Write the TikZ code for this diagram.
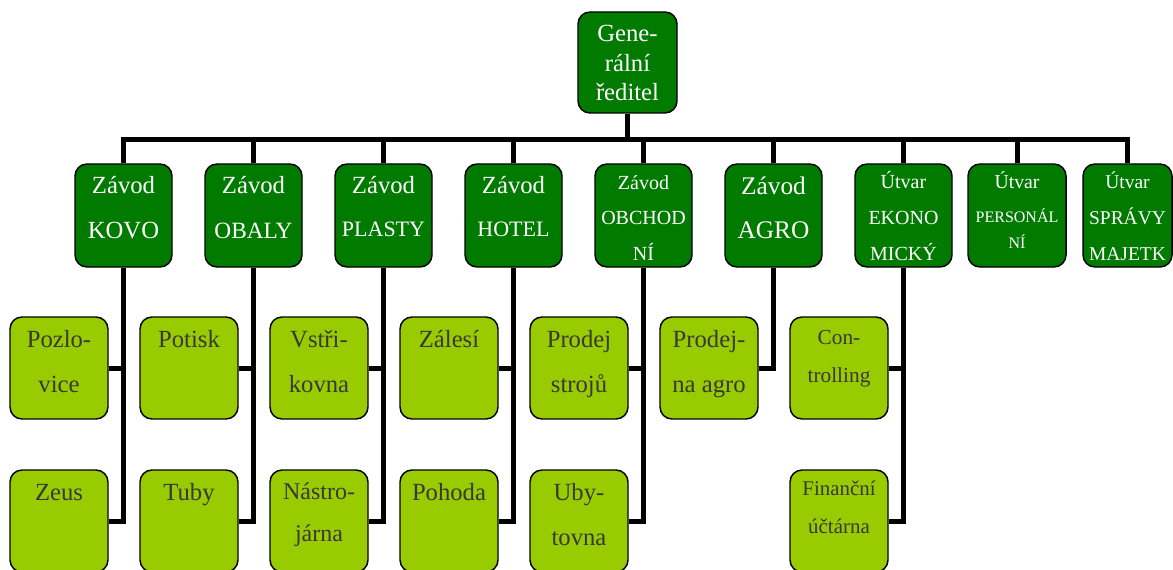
\documentclass[tikz,border=0pt]{standalone}
\usepackage{fontspec}
\setmainfont{Liberation Serif}
\definecolor{dkgreen}{RGB}{0,123,0}
\definecolor{ltgreen}{RGB}{153,204,0}
\definecolor{txtgray}{RGB}{56,56,56}
\newcommand\setfs[2]{\fontsize{#1}{#2}\selectfont}
\newcommand\firstln{\rule{0pt}{18pt}}
\tikzset{
  boxbase/.style={draw=black, line width=1.1pt, rounded corners=9pt, inner sep=0pt},
  chief/.style={boxbase, fill=dkgreen, minimum width=74.25pt, minimum height=75.75pt},
  unit/.style={boxbase, fill=dkgreen, minimum width=72.75pt, minimum height=77.25pt},
  sub/.style={boxbase, fill=ltgreen, minimum width=73.5pt, minimum height=76.5pt},
  wtxt/.style={text=white, inner sep=0pt, anchor=north, align=center},
  gtxt/.style={text=txtgray, inner sep=0pt, anchor=north, align=center},
  conn/.style={draw=black, line width=3.75pt}
}
\begin{document}
\begin{tikzpicture}[x=0.75pt, y=-0.75pt]
\useasboundingbox (0,0) rectangle (1173,570);
\clip (0,0) rectangle (1173,570);

% top
\node[chief] (gen) at (627.5,62.5) {};

% second level
\node[unit] (kovo)   at (123.5,215.5) {};
\node[unit] (obaly)  at (253.5,215.5) {};
\node[unit] (plasty) at (383.5,215.5) {};
\node[unit] (hotel)  at (513.5,215.5) {};
\node[unit] (obchod) at (643.5,215.5) {};
\node[unit] (agro)   at (773.5,215.5) {};
\node[unit] (ekon)   at (903.5,215.5) {};
\node[unit, minimum width=73.5pt] (pers) at (1017,215.5) {};
\node[unit, minimum width=66.75pt] (sprava) at (1127.5,215.5) {};

% third level
\node[sub] (pozlo)     at (59,368) {};
\node[sub] (zeus)      at (59,521) {};
\node[sub] (potisk)    at (189,368) {};
\node[sub] (tuby)      at (189,521) {};
\node[sub] (vstrik)    at (319,368) {};
\node[sub] (nastroj)   at (319,521) {};
\node[sub] (zalesi)    at (449,368) {};
\node[sub] (pohoda)    at (449,521) {};
\node[sub] (prodstroj) at (579,368) {};
\node[sub] (ubyt)      at (579,521) {};
\node[sub] (prodagro)  at (709,368) {};
\node[sub] (contr)     at (839,368) {};
\node[sub] (finan)     at (839,521) {};

% labels
\node[wtxt, font=\setfs{18.5}{22}] (gen-t) at (gen |- 0,17.5) {\firstln Gene-\\rální\\ředitel};

\node[wtxt, font=\setfs{18.5}{33.75}] (kovo-t) at (kovo |- 0,169) {\firstln Závod\\KOVO};
\node[wtxt, font=\setfs{17.5}{33.75}] (obaly-t) at (obaly |- 0,169) {{\setfs{18.5}{22}\firstln Závod}\\OBALY};
\node[wtxt, font=\setfs{16.5}{32.25}] (plasty-t) at (plasty |- 0,169) {{\setfs{18.5}{22}\firstln Závod}\\PLASTY};
\node[wtxt, font=\setfs{16.5}{32.25}] (hotel-t) at (hotel |- 0,169) {{\setfs{18.5}{22}\firstln Závod}\\HOTEL};
\node[wtxt, font=\setfs{15}{26.6}] (obchod-t) at (obchod |- 0,165) {\firstln Závod\\OBCHOD\\NÍ};
\node[wtxt, font=\setfs{19}{33}] (agro-t) at (agro |- 0,170) {\firstln Závod\\AGRO};
\node[wtxt, font=\setfs{15}{27}] (ekon-t) at (ekon |- 0,164) {\firstln Útvar\\EKONO\\MICKÝ};
\node[wtxt, font=\setfs{12}{19.5}] (pers-t) at (pers |- 0,164) {{\setfs{14.8}{20}\firstln Útvar}\\[6pt]PERSONÁL\\NÍ};
\node[wtxt, font=\setfs{14.6}{27}] (sprava-t) at (sprava |- 0,164) {\firstln Útvar\\SPRÁVY\\MAJETK};

\node[gtxt, font=\setfs{18.5}{33.75}] (pozlo-t) at (pozlo |- 0,323) {\firstln Pozlo-\\vice};
\node[gtxt, font=\setfs{18.5}{33.75}] (zeus-t) at (zeus |- 0,476) {\firstln Zeus};
\node[gtxt, font=\setfs{18.5}{33.75}] (potisk-t) at (potisk |- 0,323) {\firstln Potisk};
\node[gtxt, font=\setfs{18.5}{33.75}] (tuby-t) at (tuby |- 0,476) {\firstln Tuby};
\node[gtxt, font=\setfs{18.5}{33.75}] (vstrik-t) at (vstrik |- 0,323) {\firstln Vstři-\\kovna};
\node[gtxt, font=\setfs{18}{31.5}] (nastroj-t) at (nastroj |- 0,475) {\firstln Nástro-\\járna};
\node[gtxt, font=\setfs{18.5}{33.75}] (zalesi-t) at (zalesi |- 0,323) {\firstln Zálesí};
\node[gtxt, font=\setfs{18.5}{33.75}] (pohoda-t) at (pohoda |- 0,476) {\firstln Pohoda};
\node[gtxt, font=\setfs{18.5}{33.75}] (prodstroj-t) at (prodstroj |- 0,323) {\firstln Prodej\\strojů};
\node[gtxt, font=\setfs{18.5}{33.75}] (ubyt-t) at (ubyt |- 0,476) {\firstln Uby-\\tovna};
\node[gtxt, font=\setfs{18.5}{33.75}] (prodagro-t) at (prodagro |- 0,323) {\firstln Prodej-\\na agro};
\node[gtxt, font=\setfs{16}{28.5}] (contr-t) at (contr |- 0,320) {\firstln Con-\\trolling};
\node[gtxt, font=\setfs{15.7}{28.5}] (finan-t) at (finan |- 0,471) {\firstln Finanční\\účtárna};

% top bar
\coordinate (bar) at (627.5,140);
\draw[conn] (gen.south) -- (bar);
\draw[conn] (kovo.north) |- (bar) -| (sprava.north);
\foreach \u in {obaly,plasty,hotel,obchod,agro,ekon,pers}
  \draw[conn] (\u.north) -- (\u.north |- bar);

% columns
\draw[conn] (kovo.south) |- (zeus.east);
\draw[conn] (pozlo.east) -- (pozlo.east -| kovo.south);
\draw[conn] (obaly.south) |- (tuby.east);
\draw[conn] (potisk.east) -- (potisk.east -| obaly.south);
\draw[conn] (plasty.south) |- (nastroj.east);
\draw[conn] (vstrik.east) -- (vstrik.east -| plasty.south);
\draw[conn] (hotel.south) |- (pohoda.east);
\draw[conn] (zalesi.east) -- (zalesi.east -| hotel.south);
\draw[conn] (obchod.south) |- (ubyt.east);
\draw[conn] (prodstroj.east) -- (prodstroj.east -| obchod.south);
\draw[conn] (agro.south) |- (prodagro.east);
\draw[conn] (ekon.south) |- (finan.east);
\draw[conn] (contr.east) -- (contr.east -| ekon.south);
\end{tikzpicture}
\end{document}
